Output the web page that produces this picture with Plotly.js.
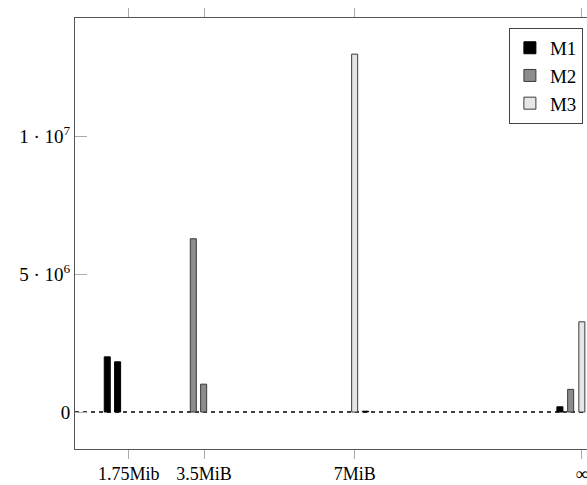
<!DOCTYPE html>
<html><head><meta charset="utf-8">
<script src="https://cdn.plot.ly/plotly-3.0.1.min.js"></script>
<style>html,body{margin:0;padding:0;overflow:hidden;background:#fff}</style>
</head><body><div id="chart" style="width:587px;height:485px"></div>
<script>
// x positions in data units (memory size axis, ∞ drawn at 12.28)
const m1X = [1.25, 1.49, 7.25, 11.77];
const m1Y = [2.0e6, 1.82e6, 0.03e6, 0.19e6];
const m2X = [3.25, 3.49, 12.02];
const m2Y = [6.28e6, 1.01e6, 0.82e6];
const m3X = [7.0, 12.28];
const m3Y = [12.97e6, 3.27e6];
const xTickVals = [1.75, 3.5, 7, 12.28];
const xTickText = ["1.75Mib", "3.5MiB", "7MiB", "∞"];
const yTickVals = [0, 5e6, 1e7];
const yTickText = ["0", "5 · 10<sup>6</sup>", "1 · 10<sup>7</sup>"];

const serif = "'Liberation Serif', 'Times New Roman', serif";
const bw = 0.14;
function tr(name, x, y, fill, line) {
  return {type: 'bar', name: name, x: x, y: y, width: x.map(() => bw),
    marker: {color: fill, line: {color: line, width: 1}}, hoverinfo: 'skip'};
}
const data = [
  tr('M1', m1X, m1Y, '#000000', '#000000'),
  tr('M2', m2X, m2Y, '#8c8c8c', '#3a3a3a'),
  tr('M3', m3X, m3Y, '#e6e6e6', '#3a3a3a')
];
const layout = {
  width: 587, height: 485,
  margin: {l: 75, r: 0, t: 18, b: 36},
  paper_bgcolor: '#fff', plot_bgcolor: '#fff',
  barmode: 'overlay', showlegend: true,
  font: {family: serif, size: 19, color: '#000'},
  xaxis: {range: [0.5, 12.4], tickvals: xTickVals, ticktext: xTickText,
    ticks: 'outside', ticklen: 9, tickcolor: '#aaaaaa', tickwidth: 1,
    showline: true, mirror: 'ticks', linecolor: '#555', linewidth: 1,
    showgrid: false, zeroline: false, ticklabeloverflow: 'allow',
    ticklabelstandoff: -1,
    tickfont: {family: serif, size: 18}},
  yaxis: {range: [-1.34e6, 14.28e6], tickvals: yTickVals, ticktext: yTickText,
    ticks: 'inside', ticklen: 12, tickcolor: '#aaaaaa', tickwidth: 1,
    showline: true, mirror: true, linecolor: '#555', linewidth: 1,
    showgrid: false, zeroline: false, tickfont: {family: serif, size: 19}},
  legend: {x: 0.992, xanchor: 'right', y: 0.977, yanchor: 'top',
    bordercolor: '#444', borderwidth: 1, bgcolor: '#fff',
    font: {family: serif, size: 19}, itemwidth: 30, tracegroupgap: 0},
  shapes: [{type: 'line', xref: 'paper', x0: 0, x1: 1, yref: 'y', y0: 0, y1: 0,
    layer: 'below', line: {color: '#000', width: 1.4, dash: '4px,4px'}}]
};
Plotly.newPlot('chart', data, layout, {staticPlot: true, displayModeBar: false});
</script></body></html>
